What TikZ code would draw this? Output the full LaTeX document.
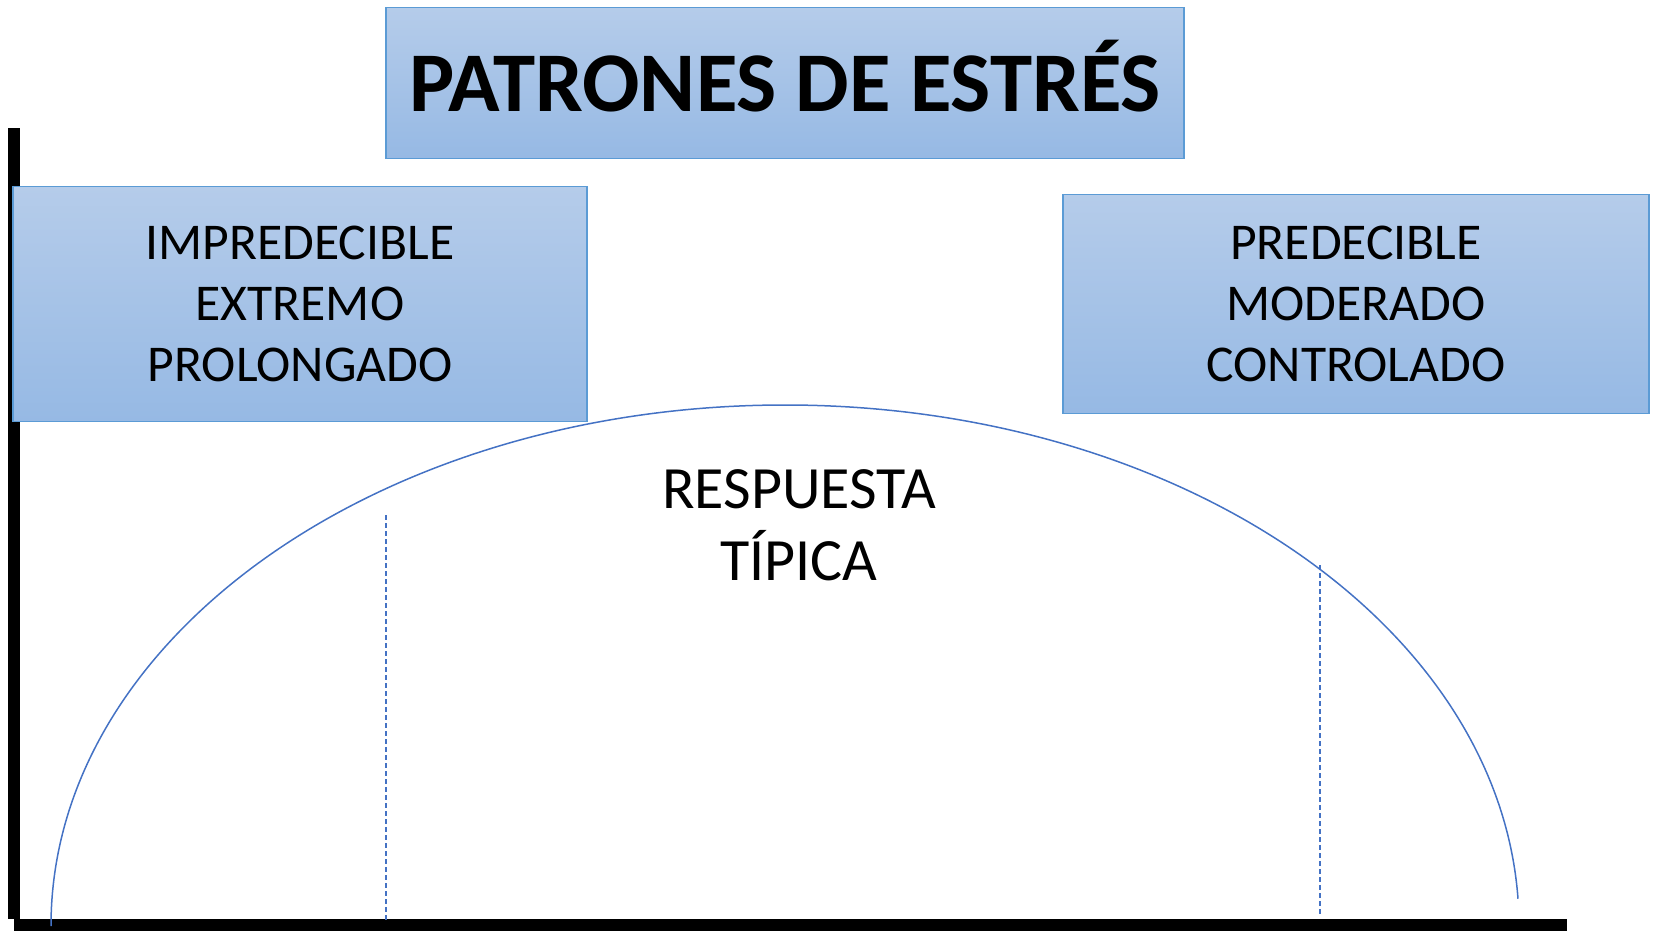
\documentclass[tikz,border=0pt]{standalone}
\usepackage{fontspec}
\setmainfont{Carlito}
\usepackage{xcolor}
\usetikzlibrary{calc}

\definecolor{boxtop}{RGB}{181,204,234}
\definecolor{boxbot}{RGB}{150,185,228}
\definecolor{boxline}{RGB}{91,155,213}
\definecolor{curveblue}{RGB}{68,114,196}

\begin{document}
\begin{tikzpicture}[
    x=0.5pt, y=-0.5pt,
    panel/.style={rectangle, draw=boxline, line width=0.7pt, top color=boxtop, bottom color=boxbot, align=center, inner sep=0pt},
    axis/.style={fill=black},
    guide/.style={curveblue, line width=0.6pt, dash pattern=on 2.5pt off 1.5pt}
]
\useasboundingbox (0,0) rectangle (1659,931);

% axes
\fill[axis] (8,128) rectangle (20,919);
\fill[axis] (14,919) rectangle (1567,931);

% title and the two boxes
\node[panel, minimum width=399pt, minimum height=75.5pt] (title) at (785,83) {};
\node[font=\fontsize{42.5}{48}\selectfont\bfseries] (titletext) at (785,76) {PATRONES DE ESTRÉS};
\node[panel, minimum width=287pt, minimum height=117.5pt, font=\fontsize{25.8}{30.5}\selectfont] (unpred) at (300,304) {IMPREDECIBLE\\EXTREMO\\PROLONGADO};
\node[panel, minimum width=293pt, minimum height=109.5pt, font=\fontsize{25.8}{30.5}\selectfont] (pred) at (1356,304) {PREDECIBLE\\MODERADO\\CONTROLADO};

% response curve
\coordinate (start) at (51,926);
\draw[curveblue, line width=0.75pt] (start) arc[start angle=180, end angle=3, x radius=734, y radius=-521] coordinate (stop);
\node[font=\fontsize{30}{36}\selectfont, align=center] (resp) at (799,525) {RESPUESTA\\TÍPICA};

% dashed guides
\coordinate (g1top) at (386,515);
\coordinate (g1bot) at (386,920);
\coordinate (g2top) at (1320,565);
\coordinate (g2bot) at (1320,916);
\draw[guide] (g1top) -- (g1bot);
\draw[guide] (g2top) -- (g2bot);

\end{tikzpicture}
\end{document}
